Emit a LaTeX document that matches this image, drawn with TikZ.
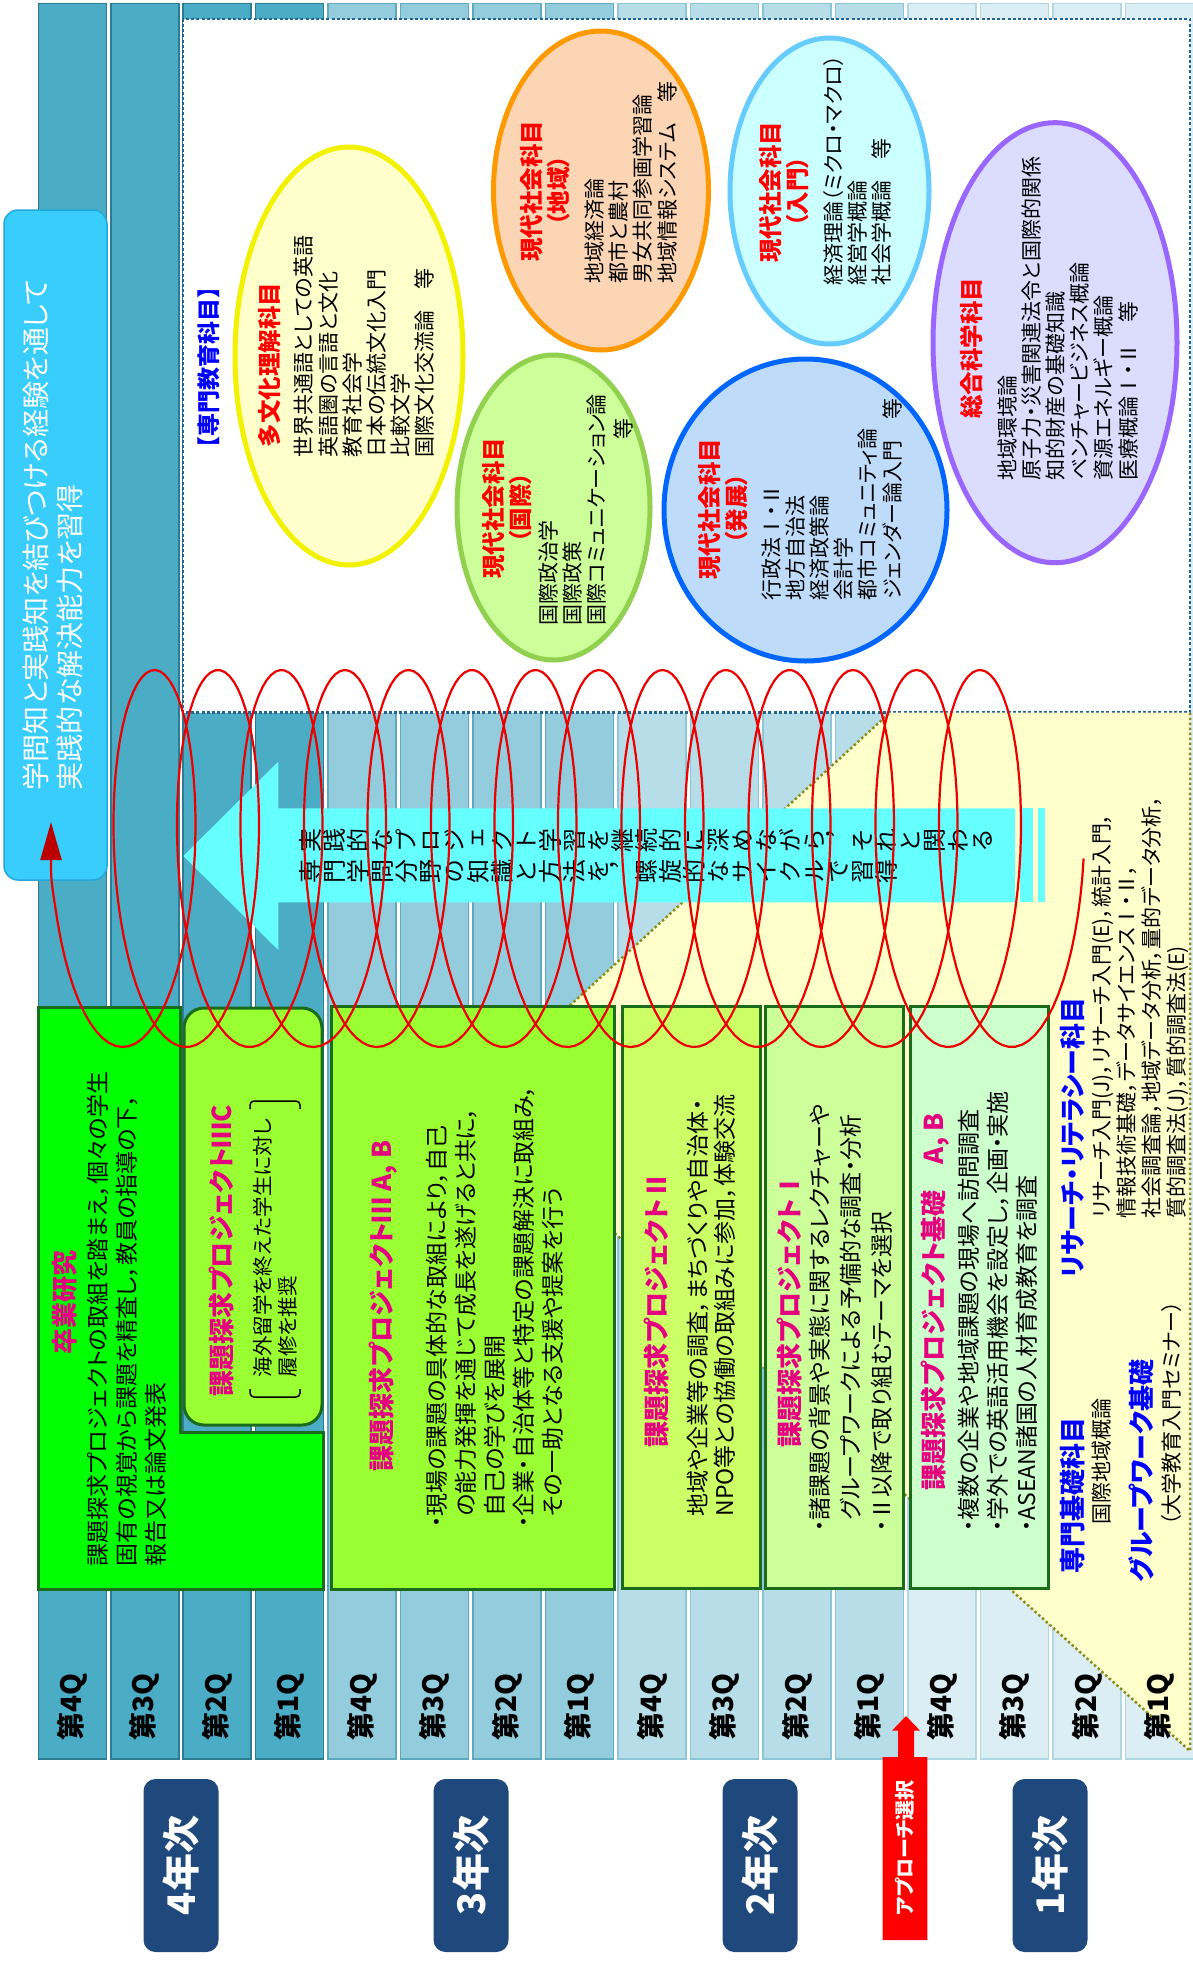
\documentclass[tikz,border=0pt]{standalone}
\usepackage{graphicx}
\usepackage{fontspec}
\setmainfont{Noto Sans CJK JP}[RawFeature=+palt]
\newfontfamily\jpfw{Noto Sans CJK JP}
\newfontfamily\vfont{Noto Sans CJK JP}[RawFeature=+vert]
\usetikzlibrary{arrows.meta}
\makeatletter
\newcommand\vchars[1]{\vch@#1\@nil}
\def\vch@#1{\ifx\@nil#1\else\makebox[1em]{\rotatebox[origin=c]{90}{\makebox[1em]{\rule[-0.12em]{0pt}{1em}#1}}}\expandafter\vch@\fi}
\makeatother
\definecolor{qfA}{HTML}{4BACC6}
\definecolor{qlA}{HTML}{2E7C92}
\definecolor{qfB}{HTML}{93CDDD}
\definecolor{qlB}{HTML}{5FA9BE}
\definecolor{qfC}{HTML}{B7DEE8}
\definecolor{qlC}{HTML}{8CC6D6}
\definecolor{qfD}{HTML}{DAEEF3}
\definecolor{qlD}{HTML}{B0D8E4}
\definecolor{yearblue}{HTML}{1F497D}
\definecolor{skyb}{HTML}{38CDFA}
\definecolor{skyline}{HTML}{22A8DA}
\definecolor{arrowc}{HTML}{66FFFF}
\definecolor{framec}{HTML}{1F6496}
\definecolor{paleyel}{HTML}{FFFFCC}
\definecolor{olivec}{HTML}{8C8C1E}
\definecolor{dgreen}{HTML}{1A6B1A}
\definecolor{gA}{HTML}{00FF00}
\definecolor{gB}{HTML}{99FF33}
\definecolor{gC}{HTML}{CCFF66}
\definecolor{gD}{HTML}{CCFF99}
\definecolor{gE}{HTML}{CCFFCC}
\definecolor{mag}{HTML}{E4007F}
\definecolor{bluet}{HTML}{0000FF}
\definecolor{spred}{HTML}{EB0000}
\definecolor{elYf}{HTML}{FFFFCC}
\definecolor{elYd}{HTML}{F2F200}
\definecolor{elOf}{HTML}{FCD5B4}
\definecolor{elOd}{HTML}{FF9900}
\definecolor{elGf}{HTML}{CCFF99}
\definecolor{elGd}{HTML}{92D050}
\definecolor{elCf}{HTML}{CCFFFF}
\definecolor{elCd}{HTML}{66CCFF}
\definecolor{elBf}{HTML}{BEDCFA}
\definecolor{elBd}{HTML}{0066FF}
\definecolor{elPf}{HTML}{DCDCFF}
\definecolor{elPd}{HTML}{9966FF}
\tikzset{
  rt/.style={rotate=90,inner sep=0pt,outer sep=0pt},
  colA/.style={fill=qfA,draw=qlA,line width=1.5pt},
  colB/.style={fill=qfB,draw=qlB,line width=1.5pt},
  colC/.style={fill=qfC,draw=qlC,line width=1.5pt},
  colD/.style={fill=qfD,draw=qlD,line width=1.5pt},
  qlab/.style={rt,font=\bfseries\fontsize{28}{28}\selectfont},
  yeartxt/.style={rt,text=white,font=\bfseries\fontsize{38}{38}\selectfont},
  boxhead/.style={rt,text=mag,font=\bfseries\fontsize{26}{26}\selectfont},
  boxbody/.style={rt,anchor=west,align=left,font=\fontsize{23}{29}\selectfont},
  elhead/.style={rt,text=red,align=center,font=\bfseries\fontsize{23.5}{27}\selectfont},
  elbody/.style={rt,anchor=west,align=left,font=\fontsize{21}{24.2}\selectfont},
  bluehead/.style={rt,anchor=west,text=bluet,font=\bfseries\fontsize{26}{26}\selectfont},
  pbox/.style={draw=dgreen,line width=3pt},
  spiral/.style={draw=spred,line width=2.2pt},
  arrtxt/.style={anchor=west,inner sep=0pt,font=\vfont\fontsize{24}{24}\selectfont},
}
\begin{document}
\begin{tikzpicture}[x=1pt,y=-1pt]
\useasboundingbox (0,0) rectangle (1192,1962);
\fill[white] (0,0) rectangle (1192,1962);
% quarter columns
\foreach \i in {0,...,3}{\draw[colA] ({38.3+72.47*\i},3.6) rectangle ++(68,1755.4);}
\foreach \i in {4,...,7}{\draw[colB] ({38.3+72.47*\i},3.6) rectangle ++(68,1755.4);}
\foreach \i in {8,...,11}{\draw[colC] ({38.3+72.47*\i},3.6) rectangle ++(68,1755.4);}
\foreach \i in {12,...,15}{\draw[colD] ({38.3+72.47*\i},3.6) rectangle ++(68,1755.4);}
% goal box
\draw[fill=skyb,draw=skyline,line width=1.5pt,rounded corners=14pt] (4,210) rectangle (107,880);
\node[rt,anchor=west,align=left,text=white,font=\fontsize{28}{34}\selectfont] (goal) at (53,790)
  {学問知と実践知を結びつける経験を通して\\実践的な解決能力を習得};
% frame of specialised subjects
\draw[fill=white,draw=framec,line width=2.2pt,dash pattern=on 3pt off 2.2pt] (183,18.7) rectangle (1190,712.5);
\node[rt,text=bluet,font=\jpfw\bfseries\fontsize{23}{23}\selectfont] (senmon) at (208.6,367) {【専門教育科目】};
% ellipses
\draw[fill=elYf,draw=elYd,line width=5pt] (349,356) ellipse [x radius=114,y radius=209];
\node[elhead] (yh) at (270,365) {多文化理解科目};
\node[elbody] (yb) at (364.5,457.6) {世界共通語としての英語\\英語圏の言語と文化\\教育社会学\\日本の伝統文化入門\\比較文学\\国際文化交流論　等};
\draw[fill=elOf,draw=elOd,line width=5pt] (601,190.5) ellipse [x radius=107.5,y radius=159.5];
\node[elhead] (oh) at (545.4,191) {現代社会科目\\（地域）};
\node[elbody] (ob) at (630.8,283.5) {地域経済論\\都市と農村\\男女共同参画学習論\\地域情報システム　等};
\draw[fill=elGf,draw=elGd,line width=5pt] (553.5,507.5) ellipse [x radius=96.5,y radius=152.5];
\node[elhead] (gh) at (507,508) {現代社会科目\\（国際）};
\node[elbody] (gb) at (572.7,625) {国際政治学\\国際政策\\国際コミュニケーション論};
\node[rt,font=\fontsize{21}{21}\selectfont] (gt) at (623,428.5) {等};
\draw[fill=elCf,draw=elCd,line width=5pt] (829.5,191) ellipse [x radius=99.5,y radius=153];
\node[elhead] (ch) at (783.8,192) {現代社会科目\\（入門）};
\node[elbody] (cb) at (857.1,285.7) {経済理論（ミクロ・マクロ）\\経営学概論\\社会学概論　等};
\draw[fill=elBf,draw=elBd,line width=5pt] (805.5,510) ellipse [x radius=141.5,y radius=151];
\node[elhead] (bh) at (723.5,509) {現代社会科目\\（発展）};
\node[elbody] (bb) at (831.5,600) {行政法{\jpfw Ⅰ}・{\jpfw Ⅱ}\\地方自治法\\経済政策論\\会計学\\都市コミュニティ論\\ジェンダー論入門　等};
\draw[fill=elPf,draw=elPd,line width=5pt] (1055,342.7) ellipse [x radius=122,y radius=220];
\node[elhead] (ph) at (972,348) {総合科学科目};
\node[elbody] (pb) at (1067.7,480) {地域環境論\\原子力・災害関連法令と国際的関係\\知的財産の基礎知識\\ベンチャービジネス概論\\資源エネルギー概論\\医療概論{\jpfw Ⅰ}・{\jpfw Ⅱ}　等};
% yellow region
\fill[paleyel] (466.6,1100) -- (890,712.5) -- (1190,712.5) -- (1190,1751) -- cycle;
\draw[draw=olivec,line width=2.5pt,dash pattern=on 2.5pt off 2.5pt] (466.6,1100) -- (890,712.5);
\draw[draw=olivec,line width=2.5pt,dash pattern=on 2.5pt off 2.5pt] (1190,712.5) -- (1190,1751) -- (466.6,1100);
% big arrow
\fill[arrowc] (183.3,856) -- (278.3,761.7) -- (278.3,808.3) -- (1015,808.3) -- (1015,902.3) -- (278.3,902.3) -- (278.3,950) -- cycle;
\fill[arrowc] (1020,808.3) rectangle (1033,902.3);
\fill[arrowc] (1038,808.3) rectangle (1045,902.3);
\node[arrtxt] (ar1) at (298,840) {\vchars{実践的なプロジェクト学習を継続的に深めながら，それと関わる}};
\node[arrtxt] (ar2) at (298,871) {\vchars{専門学問分野の知識と方法を，螺旋的なサイクルで習得}};
% project boxes
\draw[pbox,fill=gA] (38.3,1007) -- (180,1007) -- (180,1432) -- (323.4,1432) -- (323.4,1589) -- (38.3,1589) -- cycle;
\draw[pbox,fill=gB,rounded corners=20pt] (184,1008) rectangle (322,1425);
\draw[pbox,fill=gB] (331.7,1006) rectangle (614,1589);
\draw[pbox,fill=gC] (622.7,1006) rectangle (760,1588);
\draw[pbox,fill=gD] (765,1006) rectangle (903.5,1588);
\draw[pbox,fill=gE] (910,1006) rectangle (1048,1588);
\node[boxhead] (sh) at (65,1302) {卒業研究};
\node[boxbody] (sb) at (127.3,1566) {課題探求プロジェクトの取組を踏まえ，個々の学生\\固有の視覚から課題を精査し，教員の指導の下，\\報告又は論文発表};
\node[boxhead] (ch3) at (221.7,1250.5) {課題探求プロジェクト{\jpfw Ⅲ}C};
\node[rt,anchor=west,align=left,font=\fontsize{20.5}{25}\selectfont] (cb3) at (275.5,1377) {海外留学を終えた学生に対し\\履修を推奨};
\draw[line width=1.5pt,rounded corners=4pt] (250,1389) -- (250,1397) -- (300,1397) -- (300,1389);
\draw[line width=1.5pt,rounded corners=4pt] (250,1109) -- (250,1101) -- (300,1101) -- (300,1109);
\node[boxhead] (ah3) at (383,1306) {課題探求プロジェクト{\jpfw Ⅲ} A, B};
\node[boxbody] (ab3) at (494.8,1528) {・現場の課題の具体的な取組により，自己\\\phantom{・}の能力発揮を通じて成長を遂げると共に，\\\phantom{・}自己の学びを展開\\・企業・自治体等と特定の課題解決に取組み，\\\phantom{・}その一助となる支援や提案を行う};
\node[boxhead] (h2) at (656.7,1310) {課題探求プロジェクト{\jpfw Ⅱ}};
\node[boxbody,font=\fontsize{23}{27}\selectfont] (b2) at (711.5,1516.6) {地域や企業等の調査，まちづくりや自治体・\\NPO等との協働の取組みに参加，体験交流};
\node[boxhead] (h1) at (790,1310) {課題探求プロジェクト{\jpfw Ⅰ}};
\node[boxbody,font=\fontsize{23}{30.8}\selectfont] (b1) at (850.8,1532) {・諸課題の背景や実態に関するレクチャーや\\\phantom{・}グループワークによる予備的な調査・分析\\・{\jpfw Ⅱ}以降で取り組むテーマを選択};
\node[boxhead] (h0) at (935,1302) {課題探求プロジェクト基礎　A, B};
\node[boxbody] (b0) at (997.3,1532) {・複数の企業や地域課題の現場へ訪問調査\\・学外での英語活用機会を設定し，企画・実施\\・ASEAN諸国の人材育成教育を調査};
% literacy and foundation subjects
\node[bluehead] (rl) at (1073,1278) {リサーチ・リテラシー科目};
\node[rt,anchor=west,align=left,font=\fontsize{21}{25}\selectfont] (rlb) at (1139.9,1218) {リサーチ入門(J)，リサーチ入門(E)，統計入門，\\情報技術基礎，データサイエンス{\jpfw Ⅰ}・{\jpfw Ⅱ}，\\社会調査論，地域データ分析，量的データ分析，\\質的調査法(J)，質的調査法(E)};
\node[bluehead] (sk) at (1073,1573) {専門基礎科目};
\node[rt,anchor=west,font=\fontsize{21}{21}\selectfont] (skb) at (1101.7,1524) {国際地域概論};
\node[bluehead] (gw) at (1141.7,1582) {グループワーク基礎};
\node[rt,anchor=west,font=\fontsize{21}{21}\selectfont] (gwb) at (1171.7,1526) {（大学教育入門セミナー）};
% quarter labels
\foreach \i/\q in {0/4,1/3,2/2,3/1,4/4,5/3,6/2,7/1,8/4,9/3,10/2,11/1,12/4,13/3,14/2,15/1}
  {\node[qlab] (q\i) at ({72.3+72.47*\i},1707) {第\q Q};}
% year labels
\foreach \cx/\yy in {181/4,471/3,760/2,1050/1}{
  \fill[yearblue,rounded corners=12pt] ({\cx-37.5},1779) rectangle ({\cx+37.5},1952);
  \node[yeartxt] (yr\yy) at (\cx,1865.5) {\yy 年次};
}
% approach selection
\fill[red] (882.5,1940) -- (882.5,1757) -- (898,1757) -- (898,1730.6) -- (892,1730.6) -- (906,1716) -- (920,1730.6) -- (914,1730.6) -- (914,1757) -- (927.4,1757) -- (927.4,1940) -- cycle;
\node[rt,text=white,font=\bfseries\fontsize{20}{20}\selectfont] (appr) at (905,1848) {アプローチ選択};
% spiral
\draw[spiral,-{Triangle[length=38pt,width=21pt,color=spred!80!black]}]
  plot[domain=0:5200,samples=900,variable=\t] ({1027.6-\t/360*63.5+56*cos(\t)},{858.5+188.5*sin(\t)})
  .. controls (51,880) .. (51,822);
\end{tikzpicture}
\end{document}
